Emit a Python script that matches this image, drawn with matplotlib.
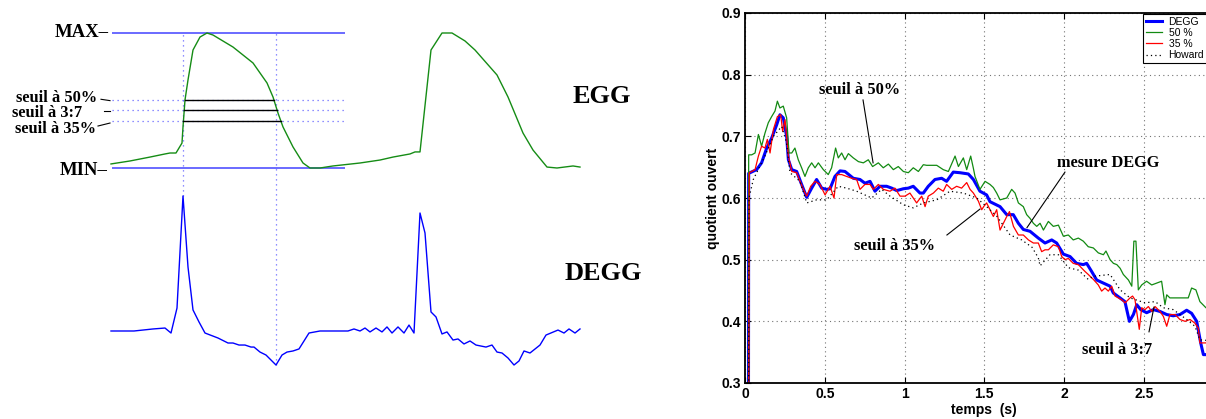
import numpy as np
import matplotlib
matplotlib.use('Agg')
import matplotlib.pyplot as plt
from matplotlib import font_manager as fm

SANS = 'Liberation Sans'


def bold_serif(size):
    # pick the bold Liberation Serif file explicitly so the weight really is bold
    for f in fm.fontManager.ttflist:
        if f.name == 'Liberation Serif' and f.weight in (700, 'bold') and f.style == 'normal':
            return fm.FontProperties(fname=f.fname, size=size)
    return fm.FontProperties(family='serif', weight='bold', size=size)


# ---- left panel: EGG / DEGG signals (time in samples, amplitude normalised MIN=0 .. MAX=1)
egg = np.array([
    (111, 0.030), (130, 0.052), (150, 0.081), (165, 0.104), (170, 0.111), (176, 0.111),
    (182, 0.185), (183, 0.304), (185, 0.504), (188, 0.652), (193, 0.874), (200, 0.970),
    (207, 1.000), (213, 0.985), (233, 0.896), (253, 0.778), (267, 0.630), (273, 0.526),
    (278, 0.407), (283, 0.304), (293, 0.156), (303, 0.037), (310, 0.000), (320, 0.000),
    (333, 0.015), (360, 0.037), (380, 0.059), (393, 0.081), (410, 0.104), (415, 0.119),
    (420, 0.119), (431, 0.874), (442, 1.000), (452, 1.000), (465, 0.941), (475, 0.874),
    (497, 0.689), (508, 0.526), (523, 0.259), (533, 0.133), (547, 0.007), (557, 0.000),
    (573, 0.015), (580, 0.007),
])
degg = np.array([
    (111, 0.0), (134, 0.0), (153, 0.015), (165, 0.022), (171, -0.015), (177, 0.170),
    (183, 1.0), (188, 0.474), (193, 0.156), (199, 0.067), (205, -0.015), (218, -0.052),
    (228, -0.089), (233, -0.089), (239, -0.104), (245, -0.104), (251, -0.119), (254, -0.119),
    (260, -0.156), (266, -0.178), (276, -0.252), (282, -0.178), (287, -0.156), (293, -0.148),
    (299, -0.133), (309, -0.015), (320, 0.0), (337, 0.0), (348, 0.0), (354, 0.015),
    (360, 0.0), (365, 0.022), (370, -0.007), (376, 0.022), (382, -0.007), (387, 0.030),
    (392, -0.015), (398, 0.030), (404, -0.015), (409, 0.044), (414, -0.015), (420, 0.874),
    (425, 0.726), (431, 0.141), (436, 0.104), (442, -0.022), (447, -0.007), (453, -0.067),
    (458, -0.059), (464, -0.096), (470, -0.074), (476, -0.104), (486, -0.119), (492, -0.104),
    (497, -0.156), (502, -0.163), (508, -0.200), (514, -0.252), (519, -0.222), (524, -0.148),
    (530, -0.163), (540, -0.104), (546, -0.030), (558, 0.007), (564, -0.015), (569, 0.015),
    (575, -0.015), (580, 0.015),
])
thresholds = [0.5, 3 / 7, 0.35]
threshold_names = ['seuil à 50%', 'seuil à 3:7', 'seuil à 35%']

# ---- right panel: open quotient vs time (s)
oq_degg = np.array([
    (0.021, 0.0), (0.023, 0.640), (0.073, 0.646), (0.104, 0.657), (0.136, 0.681), (0.167, 0.697),
    (0.199, 0.719), (0.219, 0.735), (0.240, 0.730), (0.261, 0.700), (0.272, 0.662), (0.293, 0.646),
    (0.324, 0.643), (0.355, 0.622), (0.387, 0.601), (0.418, 0.616), (0.449, 0.630), (0.481, 0.616),
    (0.512, 0.614), (0.533, 0.615), (0.564, 0.635), (0.596, 0.644), (0.627, 0.643), (0.679, 0.632),
    (0.721, 0.630), (0.752, 0.624), (0.784, 0.627), (0.815, 0.611), (0.846, 0.619), (0.888, 0.619),
    (0.920, 0.616), (0.951, 0.612), (0.993, 0.615), (1.024, 0.616), (1.055, 0.619), (1.097, 0.608),
    (1.118, 0.608), (1.149, 0.619), (1.191, 0.630), (1.233, 0.632), (1.264, 0.627), (1.306, 0.642),
    (1.348, 0.641), (1.400, 0.639), (1.432, 0.630), (1.473, 0.611), (1.515, 0.605), (1.536, 0.594),
    (1.599, 0.586), (1.641, 0.573), (1.682, 0.573), (1.714, 0.559), (1.745, 0.549), (1.787, 0.546),
    (1.839, 0.535), (1.881, 0.527), (1.923, 0.532), (1.954, 0.527), (1.996, 0.509), (2.038, 0.505),
    (2.079, 0.494), (2.121, 0.492), (2.142, 0.494), (2.173, 0.481), (2.205, 0.467), (2.247, 0.462),
    (2.289, 0.457), (2.309, 0.446), (2.351, 0.438), (2.382, 0.432), (2.410, 0.400), (2.435, 0.411),
    (2.456, 0.427), (2.481, 0.419), (2.518, 0.414), (2.560, 0.419), (2.602, 0.416), (2.644, 0.411),
    (2.685, 0.409), (2.727, 0.411), (2.769, 0.418), (2.800, 0.413), (2.832, 0.400), (2.857, 0.365),
    (2.874, 0.346), (2.950, 0.346),
])
oq_50 = np.array([
    (0.021, 0.0), (0.023, 0.670), (0.042, 0.670), (0.063, 0.673), (0.084, 0.703), (0.104, 0.684),
    (0.125, 0.705), (0.146, 0.722), (0.167, 0.732), (0.188, 0.741), (0.203, 0.757), (0.219, 0.746),
    (0.240, 0.749), (0.261, 0.730), (0.276, 0.673), (0.293, 0.673), (0.313, 0.681), (0.334, 0.662),
    (0.355, 0.649), (0.376, 0.635), (0.397, 0.649), (0.418, 0.657), (0.439, 0.649), (0.460, 0.657),
    (0.491, 0.646), (0.522, 0.638), (0.543, 0.649), (0.568, 0.681), (0.585, 0.665), (0.606, 0.673),
    (0.627, 0.662), (0.648, 0.672), (0.679, 0.665), (0.711, 0.659), (0.742, 0.657), (0.773, 0.662),
    (0.800, 0.651), (0.836, 0.657), (0.867, 0.649), (0.899, 0.655), (0.930, 0.646), (0.961, 0.651),
    (0.993, 0.643), (1.024, 0.641), (1.055, 0.649), (1.087, 0.643), (1.118, 0.654), (1.139, 0.653),
    (1.202, 0.653), (1.243, 0.646), (1.275, 0.643), (1.317, 0.668), (1.338, 0.651), (1.369, 0.665),
    (1.390, 0.646), (1.415, 0.668), (1.432, 0.648), (1.442, 0.635), (1.473, 0.614), (1.505, 0.627),
    (1.536, 0.622), (1.557, 0.617), (1.578, 0.608), (1.599, 0.597), (1.641, 0.600), (1.672, 0.614),
    (1.693, 0.608), (1.714, 0.592), (1.745, 0.586), (1.766, 0.573), (1.787, 0.567), (1.808, 0.559),
    (1.829, 0.554), (1.850, 0.559), (1.871, 0.548), (1.902, 0.562), (1.933, 0.554), (1.965, 0.556),
    (1.996, 0.538), (2.027, 0.540), (2.058, 0.532), (2.090, 0.535), (2.121, 0.530), (2.152, 0.521),
    (2.184, 0.519), (2.215, 0.511), (2.247, 0.508), (2.263, 0.514), (2.289, 0.500), (2.310, 0.494),
    (2.331, 0.492), (2.352, 0.486), (2.372, 0.476), (2.404, 0.467), (2.425, 0.457), (2.438, 0.530),
    (2.451, 0.530), (2.466, 0.451), (2.487, 0.459), (2.518, 0.465), (2.550, 0.459), (2.581, 0.462),
    (2.612, 0.465), (2.633, 0.427), (2.644, 0.443), (2.664, 0.438), (2.696, 0.438), (2.779, 0.438),
    (2.800, 0.454), (2.827, 0.451), (2.852, 0.432), (2.890, 0.422), (2.950, 0.420),
])
oq_35 = np.array([
    (0.021, 0.0), (0.027, 0.641), (0.063, 0.646), (0.084, 0.668), (0.104, 0.684), (0.125, 0.681),
    (0.140, 0.695), (0.157, 0.673), (0.178, 0.711), (0.203, 0.732), (0.224, 0.735), (0.236, 0.708),
    (0.251, 0.727), (0.272, 0.668), (0.293, 0.643), (0.324, 0.641), (0.345, 0.627), (0.366, 0.614),
    (0.387, 0.603), (0.412, 0.619), (0.439, 0.627), (0.470, 0.622), (0.502, 0.605), (0.533, 0.619),
    (0.558, 0.600), (0.575, 0.638), (0.606, 0.638), (0.637, 0.635), (0.669, 0.632), (0.700, 0.630),
    (0.721, 0.614), (0.752, 0.622), (0.784, 0.622), (0.805, 0.614), (0.836, 0.622), (0.867, 0.614),
    (0.909, 0.611), (0.940, 0.616), (0.972, 0.603), (1.003, 0.603), (1.034, 0.608), (1.076, 0.592),
    (1.108, 0.603), (1.129, 0.586), (1.149, 0.603), (1.181, 0.608), (1.212, 0.616), (1.243, 0.611),
    (1.264, 0.622), (1.296, 0.614), (1.327, 0.619), (1.358, 0.616), (1.390, 0.625), (1.411, 0.614),
    (1.432, 0.608), (1.463, 0.595), (1.484, 0.581), (1.499, 0.587), (1.515, 0.592), (1.536, 0.581),
    (1.557, 0.570), (1.578, 0.581), (1.599, 0.548), (1.620, 0.559), (1.641, 0.570), (1.658, 0.578),
    (1.683, 0.554), (1.714, 0.540), (1.745, 0.540), (1.777, 0.532), (1.808, 0.527), (1.839, 0.527),
    (1.860, 0.513), (1.881, 0.516), (1.902, 0.516), (1.933, 0.524), (1.965, 0.521), (1.986, 0.505),
    (2.006, 0.500), (2.027, 0.502), (2.058, 0.494), (2.090, 0.492), (2.131, 0.481), (2.152, 0.476),
    (2.184, 0.468), (2.215, 0.459), (2.236, 0.449), (2.257, 0.454), (2.278, 0.449), (2.299, 0.457),
    (2.320, 0.441), (2.341, 0.438), (2.362, 0.435), (2.383, 0.430), (2.414, 0.438), (2.430, 0.441),
    (2.445, 0.435), (2.472, 0.387), (2.487, 0.422), (2.508, 0.419), (2.529, 0.424), (2.550, 0.416),
    (2.571, 0.424), (2.602, 0.416), (2.623, 0.408), (2.644, 0.392), (2.664, 0.411), (2.696, 0.411),
    (2.727, 0.403), (2.759, 0.400), (2.790, 0.403), (2.821, 0.397), (2.842, 0.389), (2.852, 0.365),
    (2.950, 0.365),
])
oq_howard = np.array([
    (0.021, 0.0), (0.025, 0.600), (0.052, 0.630), (0.090, 0.650), (0.125, 0.668), (0.178, 0.700),
    (0.230, 0.716), (0.260, 0.690), (0.282, 0.641), (0.345, 0.627), (0.387, 0.592), (0.449, 0.597),
    (0.512, 0.597), (0.585, 0.619), (0.637, 0.616), (0.700, 0.611), (0.794, 0.600), (0.857, 0.614),
    (0.909, 0.603), (0.993, 0.589), (1.055, 0.584), (1.118, 0.592), (1.202, 0.597), (1.285, 0.611),
    (1.369, 0.608), (1.453, 0.600), (1.515, 0.586), (1.580, 0.570), (1.662, 0.540), (1.735, 0.532),
    (1.800, 0.520), (1.839, 0.503), (1.850, 0.490), (1.912, 0.508), (1.965, 0.508), (2.027, 0.487),
    (2.090, 0.483), (2.152, 0.468), (2.184, 0.473), (2.289, 0.476), (2.352, 0.451), (2.414, 0.438),
    (2.508, 0.430), (2.571, 0.432), (2.623, 0.422), (2.685, 0.419), (2.769, 0.403), (2.821, 0.392),
    (2.852, 0.370), (2.950, 0.368),
])
legend_labels = ['DEGG', '50 %', '35 %', 'Howard']
xticks = [0, 0.5, 1, 1.5, 2, 2.5]
yticks = [0.3, 0.4, 0.5, 0.6, 0.7, 0.8, 0.9]

W, H = 1206, 419
fig = plt.figure(figsize=(W / 100, H / 100), dpi=100)

# ================= left panel =================
ax1 = fig.add_axes([0, 0, 690 / W, 1])
ax1.set_xlim(0, 690)
ax1.set_ylim(-1.8593, 1.2444)
ax1.axis('off')
degg_off = -1.2074
green = '#158c15'
ref_blue = '#6a6aff'

ax1.hlines([1, 0], 112, 345, color=ref_blue, lw=1.4)
ax1.hlines(thresholds, 112, 345, color=ref_blue, lw=0.9, linestyles=(0, (1, 3)))

# vertical markers at DEGG max / min of first cycle
first = degg[:, 0] < 330
i_max = np.argmax(degg[first, 1])
i_min = np.argmin(degg[first, 1])
for i in (i_max, i_min):
    ax1.vlines(degg[i, 0], degg[i, 1] + degg_off, 1, color=ref_blue, lw=0.9,
               linestyles=(0, (1, 3)))

ax1.plot(egg[:, 0], egg[:, 1], color=green, lw=1)
ax1.plot(degg[:, 0], degg[:, 1] + degg_off, color='blue', lw=1)

# threshold crossings of first cycle
k_peak = 12
rise = egg[5:k_peak + 1]
fall = egg[k_peak:22]
for lev in thresholds:
    t0 = np.interp(lev, rise[:, 1], rise[:, 0])
    t1 = np.interp(lev, fall[::-1, 1], fall[::-1, 0])
    ax1.plot([t0, t1], [lev, lev], color='black', lw=1)

fp_lab = bold_serif(11.8)
fp_big = bold_serif(13.5)
fp_title = bold_serif(19)

ax1.text(109, 1.0, 'MAX–', ha='right', va='center', fontproperties=fp_big)
ax1.text(108, -0.015, 'MIN–', ha='right', va='center', fontproperties=fp_big)
label_y = [0.515, 0.408, 0.286]
label_x = [97, 82, 96]
dash_y = [(0.509, 0.499), (0.42, 0.42), (0.311, 0.333)]
dash_x = [(101, 110), (104, 110), (98, 110)]
for name, ly, lx, dy, dx in zip(threshold_names, label_y, label_x, dash_y, dash_x):
    ax1.text(lx, ly, name, ha='right', va='center', fontproperties=fp_lab)
    ax1.plot(dx, dy, color='black', lw=0.8)

ax1.text(602, 0.53, 'EGG', ha='center', va='center', fontproperties=fp_title)
ax1.text(603, -0.785, 'DEGG', ha='center', va='center', fontproperties=fp_title)

# ================= right panel =================
x0 = 745 / W
ax2 = fig.add_axes([x0, 1 - 383 / H, (1223.5 - 745) / W, (383 - 13) / H])
ax2.set_xlim(0, 3)
ax2.set_ylim(0.3, 0.9)

ax2.plot(oq_degg[:, 0], oq_degg[:, 1], color='blue', lw=2.2, label=legend_labels[0])
ax2.plot(oq_50[:, 0], oq_50[:, 1], color='#128a12', lw=0.9, label=legend_labels[1])
ax2.plot(oq_35[:, 0], oq_35[:, 1], color='red', lw=0.9, label=legend_labels[2])
ax2.plot(oq_howard[:, 0], oq_howard[:, 1], color='black', lw=0.9,
         linestyle=(0, (1, 2.5)), label=legend_labels[3])

ax2.set_xticks(xticks)
ax2.set_xticklabels(['0', '0.5', '1', '1.5', '2', '2.5'])
ax2.set_yticks(yticks)
ax2.set_yticklabels([f'{v:.1f}' for v in yticks])
ax2.grid(True, color='0.45', lw=0.8, linestyle=(0, (1, 3)))
ax2.tick_params(direction='in', length=4, width=0.8, top=True, right=True, pad=3)
for lab in ax2.get_xticklabels() + ax2.get_yticklabels():
    lab.set_fontfamily(SANS)
    lab.set_fontweight('bold')
    lab.set_fontsize(10)
for s in ax2.spines.values():
    s.set_linewidth(1.3)

ax2.set_xlabel('temps  (s)', fontsize=10, fontweight='bold', family=SANS, labelpad=1)
ax2.set_ylabel('quotient ouvert', fontsize=10, fontweight='bold', family=SANS, labelpad=1)

ann = [
    ('seuil à 50%', (0.721, 0.775), [(0.740, 0.759), (0.803, 0.657)]),
    ('seuil à 35%', (0.940, 0.522), [(1.266, 0.540), (1.473, 0.582)]),
    ('mesure DEGG', (2.276, 0.657), [(2.006, 0.642), (1.768, 0.552)]),
    ('seuil à 3:7', (2.332, 0.354), [(2.533, 0.383), (2.564, 0.423)]),
]
for txt, pos, seg in ann:
    ax2.text(pos[0], pos[1], txt, ha='center', va='center', fontproperties=fp_lab)
    ax2.plot([seg[0][0], seg[1][0]], [seg[0][1], seg[1][1]], color='black', lw=0.8)

leg = ax2.legend(loc='upper left', bbox_to_anchor=(1143 / W, 1 - 14 / H),
                 bbox_transform=fig.transFigure, borderaxespad=0,
                 prop={'family': SANS, 'size': 7.5}, fancybox=False,
                 edgecolor='black', framealpha=1, borderpad=0.25,
                 labelspacing=0.12, handlelength=1.6, handletextpad=0.6)
leg.get_frame().set_linewidth(0.8)

fig.savefig('out.png', dpi=100)
